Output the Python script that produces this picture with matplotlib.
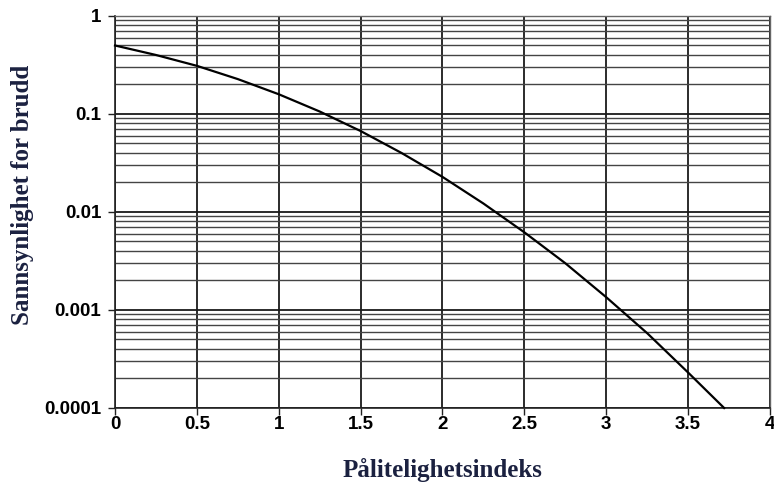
import matplotlib
matplotlib.use("Agg")
import matplotlib.pyplot as plt
from matplotlib.ticker import FixedLocator, NullFormatter, LogLocator
import numpy as np

# reliability index vs. failure probability
beta = [0.0, 0.25, 0.5, 0.75, 1.0, 1.25, 1.5, 1.75, 2.0, 2.25, 2.5, 2.75, 3.0, 3.25, 3.5, 3.72]
p_fail = [0.5, 0.40, 0.31, 0.227, 0.159, 0.106, 0.067, 0.040, 0.0228, 0.0122,
          0.0062, 0.0030, 0.00135, 0.00058, 0.00023, 0.0001]

x_ticks = [0, 0.5, 1, 1.5, 2, 2.5, 3, 3.5, 4]
x_tick_labels = ["0", "0.5", "1", "1.5", "2", "2.5", "3", "3.5", "4"]
y_ticks = [0.0001, 0.001, 0.01, 0.1, 1]
y_tick_labels = ["0.0001", "0.001", "0.01", "0.1", "1"]

LABEL_COLOR = "#1b2140"

fig = plt.figure(figsize=(7.74, 4.83), dpi=100)
ax = fig.add_axes([0.1486, 0.1553, 0.8462, 0.8116])

ax.set_yscale("log")
ax.set_xlim(0, 4)
ax.set_ylim(0.0001, 1)

# grid: vertical every 0.5, horizontal at every decade and 2..9 subdivisions
ax.xaxis.set_major_locator(FixedLocator(x_ticks))
ax.set_xticklabels(x_tick_labels)
ax.yaxis.set_major_locator(FixedLocator(y_ticks))
ax.set_yticklabels(y_tick_labels)
ax.yaxis.set_minor_locator(LogLocator(base=10, subs=np.arange(2, 10)))
ax.yaxis.set_minor_formatter(NullFormatter())

ax.grid(True, which="major", axis="x", color="#1a1a1a", lw=1.3)
ax.grid(True, which="major", axis="y", color="#1a1a1a", lw=1.3)
ax.grid(True, which="minor", axis="y", color="#444444", lw=1.0)
ax.set_axisbelow(True)

for side in ["top", "right"]:
    ax.spines[side].set_color("#666666")
    ax.spines[side].set_linewidth(1.0)
for side in ["left", "bottom"]:
    ax.spines[side].set_color("#222222")
    ax.spines[side].set_linewidth(1.2)

ax.tick_params(axis="y", which="major", length=5, width=1, color="#222222",
               labelsize=13.5, pad=5)
ax.tick_params(axis="x", which="major", length=5, width=1, color="#222222",
               labelsize=13.5, pad=1)
ax.tick_params(axis="y", which="minor", length=0)
for lab in ax.get_xticklabels() + ax.get_yticklabels():
    lab.set_fontweight("bold")
    lab.set_family("Liberation Sans")

ax.plot(beta, p_fail, color="black", lw=1.6, zorder=5, clip_on=False)

fig.text(442 / 774, 1 - 470 / 483, "Pålitelighetsindeks", fontsize=18,
         fontweight="bold", family="Liberation Serif", color=LABEL_COLOR,
         ha="center", va="center")
fig.text(23 / 774, 1 - 195 / 483, "Sannsynlighet for brudd", fontsize=18,
         fontweight="bold", family="Liberation Serif", color=LABEL_COLOR,
         ha="center", va="center", rotation=90)

fig.savefig("out.png", dpi=100)
